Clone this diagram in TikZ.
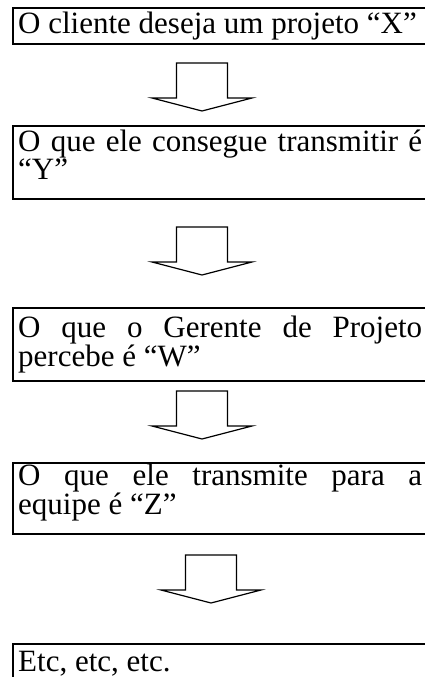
\documentclass[tikz,border=0pt]{standalone}
\usepackage{fontspec}
\setmainfont{Liberation Serif}
\begin{document}
\begin{tikzpicture}[x=1pt, y=-1pt,
  frame/.style={draw, line width=2pt, rectangle, anchor=north west,
    inner sep=0pt, minimum width=440pt},
  txt/.style={anchor=base west, inner sep=0pt,
    font=\fontsize{31}{28}\selectfont},
  blockarrow/.pic={
    \draw[line width=1.2pt, line join=miter]
      (-25.5,0) -- (25.5,0) -- (25.5,35) -- (50,35) -- (0,48)
      -- (-50,35) -- (-25.5,35) -- cycle;
  }]
  \useasboundingbox (0,0) rectangle (425,677);
  \clip (0,0) rectangle (425,677);

  % framed steps
  \node[frame, minimum height=36pt] (b1) at (12,7) {};
  \node[frame, minimum height=73pt] (b2) at (12,125) {};
  \node[frame, minimum height=73pt] (b3) at (12,307) {};
  \node[frame, minimum height=71pt] (b4) at (12,462) {};
  \node[frame, minimum height=70pt] (b5) at (12,643) {};

  % step texts (first line of each paragraph sits on the given baseline)
  \node[txt] (t1) at (18,34) {\parbox[t]{404pt}{O cliente deseja um projeto “X”}};
  \node[txt] (t2) at (18,151) {\parbox[t]{404pt}{%
    \makebox[\linewidth][s]{O que ele consegue transmitir é}\\“Y”}};
  \node[txt] (t3) at (18,337) {\parbox[t]{404pt}{%
    \makebox[\linewidth][s]{O que o Gerente de Projeto}\\percebe é “W”}};
  \node[txt] (t4) at (18,485) {\parbox[t]{404pt}{%
    \makebox[\linewidth][s]{O que ele transmite para a}\\equipe é “Z”}};
  \node[txt] (t5) at (18,671) {\parbox[t]{404pt}{Etc, etc, etc.}};

  % block arrows between the steps
  \coordinate (a1) at (202,63);
  \coordinate (a2) at (202,227);
  \coordinate (a3) at (202,391);
  \coordinate (a4) at (211,555);
  \pic at (a1) {blockarrow};
  \pic at (a2) {blockarrow};
  \pic at (a3) {blockarrow};
  \pic at (a4) {blockarrow};
\end{tikzpicture}
\end{document}
